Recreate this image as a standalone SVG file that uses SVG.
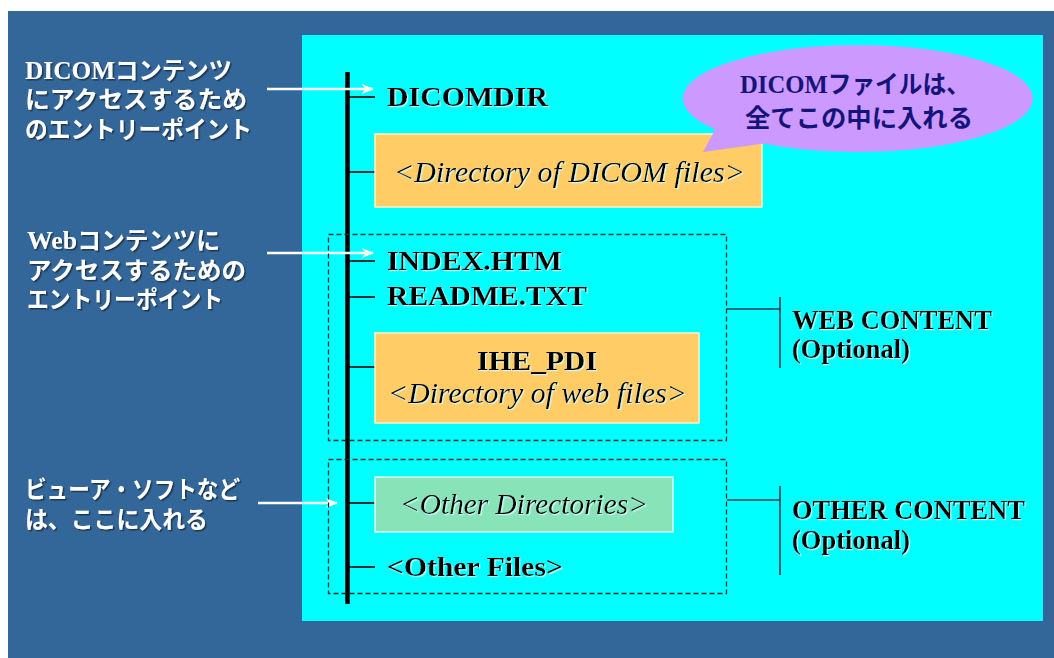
<svg xmlns="http://www.w3.org/2000/svg" width="1054" height="658" viewBox="0 0 1054 658">
<defs>
<style>
.jp{font-family:"Noto Sans CJK JP","Noto Sans",sans-serif;font-weight:bold;font-size:24px;fill:#fff}
.lat{font-family:"Liberation Serif",serif;font-weight:bold}
.lbl{font-family:"Liberation Serif",serif;font-weight:bold;font-size:28px;fill:#000}
.it{font-family:"Liberation Serif",serif;font-style:italic;font-size:30px;fill:#000}
.bub{font-family:"Noto Sans CJK JP","Noto Sans",sans-serif;font-weight:bold;font-size:25px;fill:#14147a}
.br{stroke:#000;stroke-width:1.6;fill:none}
.brk{stroke:#1d3d4d;stroke-width:1.6;fill:none}
.dash{fill:none;stroke:#2a2a2a;stroke-width:1.3;stroke-dasharray:5 3}
.arr{stroke:#fff;stroke-width:2.6;fill:none;marker-end:url(#ah)}
.obox{fill:#ffcc66;stroke:#fff2c8;stroke-width:1.5}
.gbox{fill:#88e4b8;stroke:#d8fff0;stroke-width:1.5}
</style>
<marker id="ah" viewBox="0 0 12 10" refX="11" refY="5" markerWidth="12" markerHeight="10" markerUnits="userSpaceOnUse" orient="auto">
<path d="M0,0 L12,5 L0,10 L3,5 Z" fill="#fff"/>
</marker>
<filter id="sd" x="-5%" y="-20%" width="110%" height="140%">
<feDropShadow dx="1.5" dy="1.5" stdDeviation="0.6" flood-color="#1a2a3a" flood-opacity="0.8"/>
</filter>
<filter id="ls" x="-5%" y="-20%" width="110%" height="140%">
<feDropShadow dx="1.2" dy="1.2" stdDeviation="0.5" flood-color="#d0ffff" flood-opacity="0.9"/>
</filter>
</defs>
<rect x="0" y="0" width="1054" height="658" fill="#fff"/>
<rect x="8" y="11" width="1046" height="647" fill="#336699"/>
<rect x="302" y="35" width="741" height="586" fill="#00ffff"/>

<g id="left-labels" filter="url(#sd)">
<text id="lbl-dicom" class="jp"><tspan x="25" y="79" textLength="207" lengthAdjust="spacingAndGlyphs"><tspan class="lat" font-size="26">DICOM</tspan>コンテンツ</tspan><tspan x="25" y="108" textLength="222" lengthAdjust="spacingAndGlyphs">にアクセスするため</tspan><tspan x="25" y="138" textLength="227" lengthAdjust="spacingAndGlyphs">のエントリーポイント</tspan></text>
<text id="lbl-web" class="jp"><tspan x="27" y="249" textLength="193" lengthAdjust="spacingAndGlyphs"><tspan class="lat" font-size="26">Web</tspan>コンテンツに</tspan><tspan x="27" y="279" textLength="219" lengthAdjust="spacingAndGlyphs">アクセスするための</tspan><tspan x="27" y="308" textLength="196" lengthAdjust="spacingAndGlyphs">エントリーポイント</tspan></text>
<text id="lbl-viewer" class="jp"><tspan x="25" y="498" textLength="215" lengthAdjust="spacingAndGlyphs">ビューア・ソフトなど</tspan><tspan x="25" y="528" textLength="183" lengthAdjust="spacingAndGlyphs">は、ここに入れる</tspan></text>
</g>

<g id="connectors">
<line x1="347.5" y1="72" x2="347.5" y2="604" stroke="#000" stroke-width="4.5"/>
<line class="br" x1="347" y1="97" x2="375" y2="97"/>
<line class="br" x1="347" y1="172" x2="375" y2="172"/>
<line class="br" x1="347" y1="261" x2="375" y2="261"/>
<line class="br" x1="347" y1="297" x2="375" y2="297"/>
<line class="br" x1="347" y1="367" x2="375" y2="367"/>
<line class="br" x1="347" y1="503" x2="375" y2="503"/>
<line class="br" x1="347" y1="567" x2="375" y2="567"/>
<polyline class="brk" points="727,309 780,309"/>
<line class="brk" x1="780" y1="297" x2="780" y2="368"/>
<polyline class="brk" points="727,500 780,500"/>
<line class="brk" x1="780" y1="486" x2="780" y2="575"/>
<line class="arr" x1="267" y1="89" x2="373" y2="89"/>
<line class="arr" x1="267" y1="253" x2="373" y2="253"/>
<line class="arr" x1="258" y1="503" x2="337" y2="503"/>
</g>

<g id="web-group"><rect class="dash" x="328.5" y="234.5" width="398" height="206"/></g>
<g id="other-group"><rect class="dash" x="328.5" y="459.5" width="398" height="134"/></g>

<g id="dicomdir" filter="url(#ls)"><text class="lbl" x="387" y="106" textLength="161" lengthAdjust="spacingAndGlyphs">DICOMDIR</text></g>

<g id="dicom-files">
<rect class="obox" x="375" y="134" width="387" height="73"/>
<text class="it" x="394" y="182" textLength="351" lengthAdjust="spacingAndGlyphs" filter="url(#ls)">&lt;Directory of DICOM files&gt;</text>
</g>

<g id="bubble">
<ellipse cx="858" cy="98.5" rx="175" ry="53.5" fill="#cc99ff"/>
<polygon points="716,128 768,143 703,152" fill="#cc99ff"/>
<text class="bub" x="740" y="93" textLength="230" lengthAdjust="spacingAndGlyphs"><tspan class="lat" font-size="26">DICOM</tspan>ファイルは、</text>
<text class="bub" x="745" y="127" textLength="228" lengthAdjust="spacingAndGlyphs">全てこの中に入れる</text>
</g>

<g id="index" filter="url(#ls)"><text class="lbl" x="387" y="270" textLength="175" lengthAdjust="spacingAndGlyphs">INDEX.HTM</text></g>
<g id="readme" filter="url(#ls)"><text class="lbl" x="387" y="305" textLength="200" lengthAdjust="spacingAndGlyphs">README.TXT</text></g>

<g id="ihe-pdi">
<rect class="obox" x="375" y="333" width="324" height="90"/>
<text class="lbl" x="477" y="370" textLength="120" lengthAdjust="spacingAndGlyphs" filter="url(#ls)">IHE_PDI</text>
<text class="it" x="388" y="403" textLength="299" lengthAdjust="spacingAndGlyphs" filter="url(#ls)">&lt;Directory of web files&gt;</text>
</g>

<g id="web-content" filter="url(#ls)">
<text class="lbl" x="792" y="329" textLength="200" lengthAdjust="spacingAndGlyphs">WEB CONTENT</text>
<text class="lbl" x="792" y="358" textLength="118" lengthAdjust="spacingAndGlyphs">(Optional)</text>
</g>

<g id="other-dirs">
<rect class="gbox" x="375" y="477" width="298" height="55"/>
<text class="it" x="400" y="514" textLength="248" lengthAdjust="spacingAndGlyphs" filter="url(#ls)">&lt;Other Directories&gt;</text>
</g>

<g id="other-files" filter="url(#ls)"><text class="lbl" x="387" y="576" textLength="176" lengthAdjust="spacingAndGlyphs">&lt;Other Files&gt;</text></g>

<g id="other-content" filter="url(#ls)">
<text class="lbl" x="792" y="519" textLength="233" lengthAdjust="spacingAndGlyphs">OTHER CONTENT</text>
<text class="lbl" x="792" y="549" textLength="118" lengthAdjust="spacingAndGlyphs">(Optional)</text>
</g>
</svg>
